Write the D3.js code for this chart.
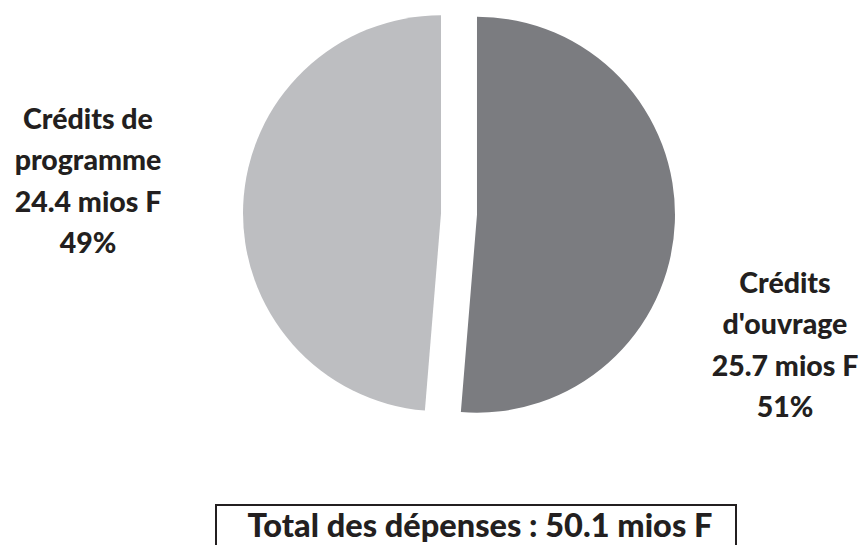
<!DOCTYPE html>
<html>
<head>
<meta charset="utf-8">
<script src="https://cdn.jsdelivr.net/npm/d3@7"></script>
<style>
  html, body { margin: 0; padding: 0; background: #ffffff; }
  svg { display: block; }
  text { font-family: Lato, "Open Sans", sans-serif; font-weight: 900; fill: #231f20; }
</style>
</head>
<body>
<svg id="chart" width="863" height="545"></svg>
<script>
const categories = ["Crédits d'ouvrage", "Crédits de programme"];
const values = [25.7, 24.4];
const percents = ["51%", "49%"];
const labelLines = [
  ["Crédits", "d'ouvrage", "25.7 mios F", "51%"],
  ["Crédits de", "programme", "24.4 mios F", "49%"]
];
const totalLabel = "Total des dépenses : 50.1 mios F";
const colors = ["#7b7c80", "#bdbec1"];

const svg = d3.select("#chart");
const cx = 459, cy = 214, R = 198, explode = 18;

const pie = d3.pie().sort(null).value(d => d)(values);
const arc = d3.arc().innerRadius(0).outerRadius(R);

const g = svg.append("g").attr("transform", `translate(${cx},${cy})`);
g.selectAll("path").data(pie).join("path")
  .attr("d", arc)
  .attr("fill", (d, i) => colors[i])
  .attr("transform", d => {
    const a = (d.startAngle + d.endAngle) / 2;
    return `translate(${Math.sin(a) * explode},${-Math.cos(a) * explode})`;
  });

// labels
const labelPos = [{x: 785, y: 293}, {x: 88, y: 129}];
const lineH = 41.3;
labelLines.forEach((lines, i) => {
  const t = svg.append("text")
    .attr("text-anchor", "middle")
    .attr("font-size", 28.5);
  lines.forEach((ln, j) => {
    t.append("tspan")
      .attr("x", labelPos[i].x)
      .attr("y", labelPos[i].y + j * lineH)
      .text(ln);
  });
});

// total box
svg.append("path")
  .attr("d", "M216,546 V505 H736 V546")
  .attr("fill", "none")
  .attr("stroke", "#231f20")
  .attr("stroke-width", 2);
svg.append("text")
  .attr("x", 480).attr("y", 537)
  .attr("text-anchor", "middle")
  .attr("font-size", 32.5)
  .text(totalLabel);
</script>
</body>
</html>
